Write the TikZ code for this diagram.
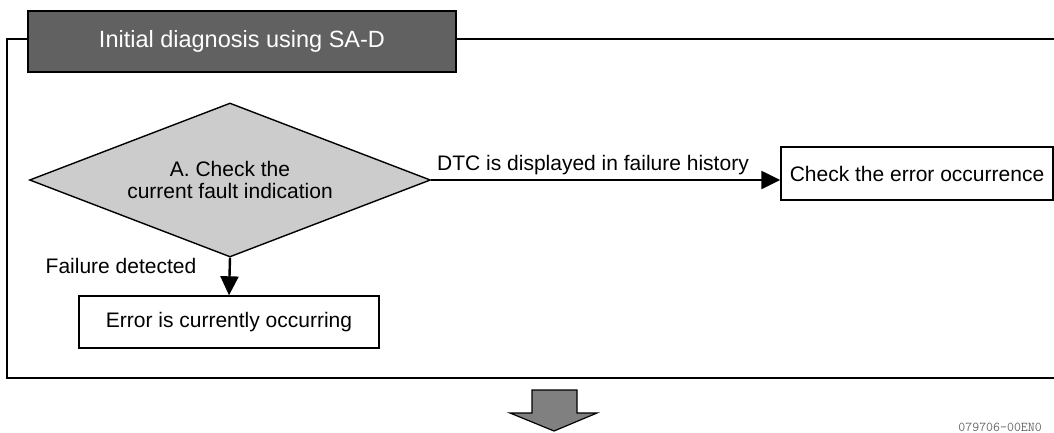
\documentclass[tikz,border=0pt]{standalone}
\usepackage{fontspec}
\setmainfont{Liberation Sans}
\usetikzlibrary{shapes.geometric,arrows.meta}
\begin{document}
\begin{tikzpicture}[x=1pt,y=-1pt,
  txt/.style={font=\fontsize{21}{25}\selectfont, text=black},
  box/.style={draw=black, line width=1.4pt, fill=white, inner sep=0pt, txt},
  conn/.style={draw=black, line width=2.4pt, -{Triangle[length=19pt,width=18pt]}},
  titlebox/.style={draw=black, line width=1.2pt, fill=black!62, text=white, inner sep=0pt,
    font=\fontsize{23.5}{28}\selectfont},
  decision/.style={diamond, aspect=2.6, draw=black, line width=1.4pt, fill=black!20, inner sep=0pt, txt, align=center}]
\useasboundingbox (0,0) rectangle (1054,432);
\begin{scope}
\clip (0,0) rectangle (1054,432);
% frame
\draw[line width=1.8pt] (1070,39) -- (7,39) -- (7,378) -- (1070,378);
\node[titlebox, minimum width=428pt, minimum height=61pt] (title) at (242,41.5) {Initial diagnosis using SA-D};
% decision
\node[decision, minimum width=401pt, minimum height=154pt] (dec) at (230,180) {A. Check the\\[-3pt]current fault indication};
% boxes
\node[box, minimum width=300pt, minimum height=52pt] (err) at (229,322) {Error is currently occurring};
\node[box, minimum width=272pt, minimum height=53pt] (chk) at (917,173.5) {Check the error occurrence};
% connectors
\draw[conn] (dec.east) -- (chk.west |- dec.east);
\draw[conn] (dec.south) -- (err.north);
% labels
\node[txt, anchor=base, inner sep=0pt] (lblDTC) at (593,170) {DTC is displayed in failure history};
\node[txt, inner sep=0pt] (lblFail) at (121,266) {Failure detected};
% big arrow
\draw[line width=1.2pt, fill=black!50] (532,390) -- (577,390) -- (577,413) -- (597,413) -- (554,431) -- (510,413) -- (532,413) -- cycle;
% code
\node[anchor=base east, inner sep=0pt, text=black!60, font=\ttfamily\fontsize{13.5}{14}\selectfont] (code) at (1042,431) {079706-00EN0};
\end{scope}
\end{tikzpicture}
\end{document}
